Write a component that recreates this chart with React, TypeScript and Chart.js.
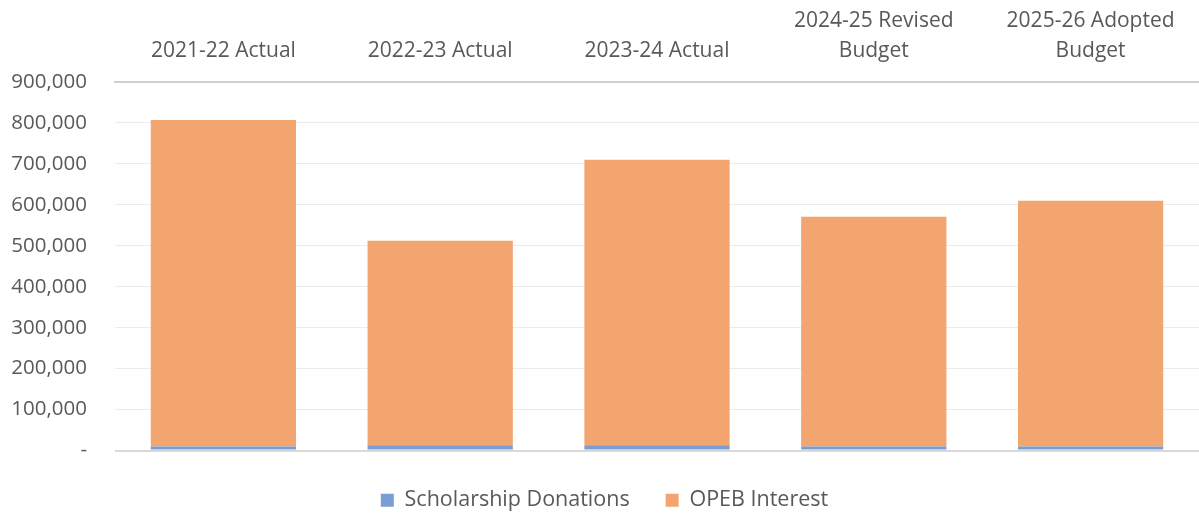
import React, { useEffect, useRef } from "react";
import { Chart, registerables } from "chart.js";

Chart.register(...registerables);

const categories: (string | string[])[] = [
  "2021-22 Actual",
  "2022-23 Actual",
  "2023-24 Actual",
  ["2024-25 Revised", "Budget"],
  ["2025-26 Adopted", "Budget"],
];
const scholarshipDonations = [10000, 13000, 13000, 10000, 10000];
const opebInterest = [797000, 499000, 697000, 561000, 600000];
const yTicks = [0, 100000, 200000, 300000, 400000, 500000, 600000, 700000, 800000, 900000];

const FONT = "'Open Sans', 'Noto Sans', sans-serif";
const FS = 20.5;

export default function App() {
  const ref = useRef<HTMLCanvasElement | null>(null);
  useEffect(() => {
    document.body.style.margin = "0";
    if (!ref.current) return;
    const chart = new Chart(ref.current, {
      type: "bar",
      data: {
        labels: categories,
        datasets: [
          {
            label: "Scholarship Donations",
            data: scholarshipDonations,
            backgroundColor: "#7b9dd6",
            barPercentage: 0.67,
            categoryPercentage: 1,
          },
          {
            label: "OPEB Interest",
            data: opebInterest,
            backgroundColor: "#f2a56e",
            barPercentage: 0.67,
            categoryPercentage: 1,
          },
        ],
      },
      options: {
        animation: false,
        responsive: false,
        maintainAspectRatio: false,
        layout: { padding: { top: -10, right: 0, left: 10, bottom: -4 } },
        plugins: {
          legend: {
            position: "bottom",
            title: { display: true, text: "", font: { size: 3, lineHeight: 1 }, padding: 0 },
            labels: {
              boxWidth: 13,
              boxHeight: 13,
              padding: 36,
              color: "#595959",
              font: { family: FONT, size: 21.5 },
            },
          },
          tooltip: { enabled: false },
        },
        scales: {
          x: {
            position: "top",
            stacked: true,
            grid: { display: false, drawTicks: false },
            border: { display: true, color: "#cfcfcf", width: 2 },
            ticks: {
              color: "#595959",
              padding: 16,
              maxRotation: 0,
              font: { family: FONT, size: 21, lineHeight: 30 / 21 },
            },
          },
          y: {
            stacked: true,
            min: 0,
            max: 900000,
            afterBuildTicks: (axis: any) => {
              axis.ticks = yTicks.map((v) => ({ value: v }));
            },
            afterFit: (axis: any) => {
              axis.width = 105;
            },
            grid: {
              drawTicks: false,
              color: (ctx: any) =>
                ctx.tick && ctx.tick.value === 0 ? "#d9d9d9" : "#ebebeb",
              lineWidth: (ctx: any) => (ctx.tick && ctx.tick.value === 0 ? 2 : 1),
            },
            border: { display: false },
            ticks: {
              color: "#595959",
              padding: 28,
              font: { family: FONT, size: FS },
              callback: (v: any) =>
                Number(v) === 0 ? "-" : Number(v).toLocaleString("en-US"),
            },
          },
        },
      },
    });
    return () => chart.destroy();
  }, []);
  return <canvas ref={ref} width={1199} height={517} style={{ display: "block" }} />;
}
